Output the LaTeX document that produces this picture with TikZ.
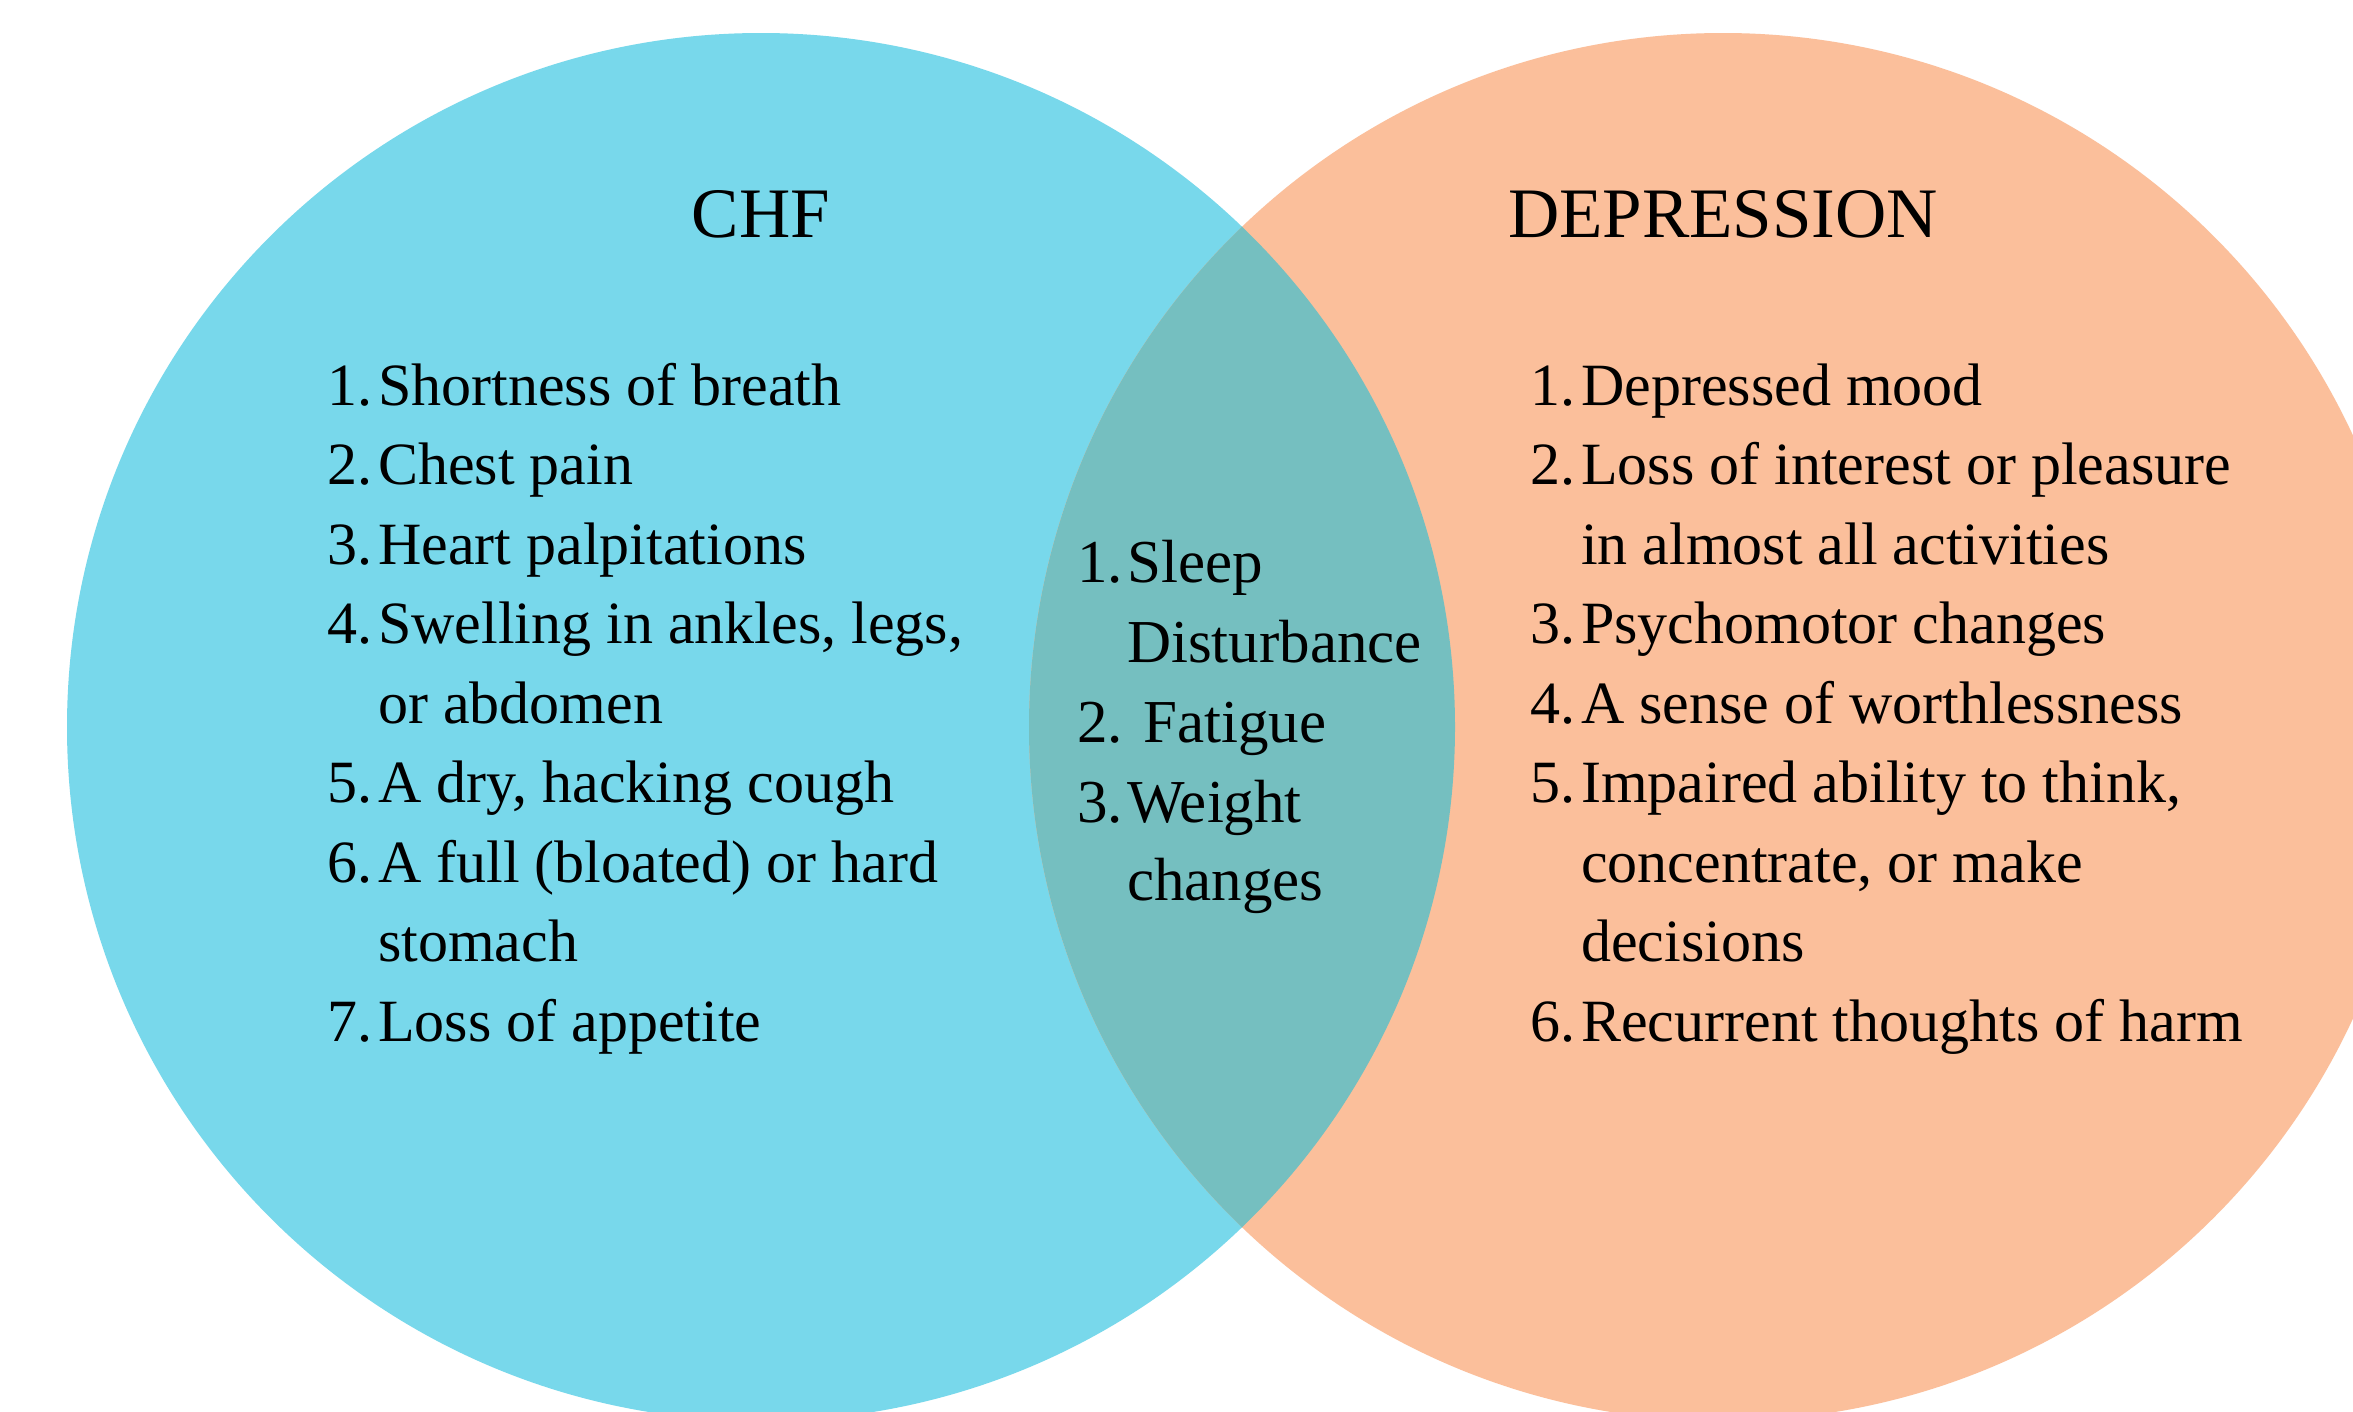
\documentclass[tikz,border=0pt]{standalone}
\usepackage{fontspec}
\setmainfont{Liberation Serif}
\definecolor{chfcol}{RGB}{120,216,235}
\definecolor{depcol}{RGB}{251,191,155}
\definecolor{ovcol}{RGB}{117,191,192}
\begin{document}
\begin{tikzpicture}[x=1pt,y=-1pt,
  ttl/.style={font=\fontsize{71}{80}\selectfont, anchor=base, inner sep=0pt},
  itm/.style={font=\fontsize{60}{80}\selectfont, anchor=base west, inner sep=0pt},
  mid/.style={font=\fontsize{61}{80}\selectfont, anchor=base west, inner sep=0pt}]
\useasboundingbox (0,0) rectangle (2353,1411);
\clip (0,0) rectangle (2353,1411);
\fill[white] (0,0) rectangle (2353,1411);
\fill[chfcol] (761,727) circle (694);
\fill[depcol] (1723,727) circle (694);
\begin{scope}
  \clip (761,727) circle (694);
  \fill[ovcol] (1723,727) circle (694);
\end{scope}
% titles
\node[ttl] (tchf) at (761,237) {CHF};
\node[ttl] (tdep) at (1723,237) {DEPRESSION};
% left list
\node[itm] (l1n) at (327,405) {1.};
\node[itm] (l1) at (378,405) {Shortness of breath};
\node[itm] (l2n) at (327,484.5) {2.};
\node[itm] (l2) at (378,484.5) {Chest pain};
\node[itm] (l3n) at (327,564) {3.};
\node[itm] (l3) at (378,564) {Heart palpitations};
\node[itm] (l4n) at (327,643.5) {4.};
\node[itm] (l4) at (378,643.5) {Swelling in ankles, legs,};
\node[itm] (l4b) at (378,723) {or abdomen};
\node[itm] (l5n) at (327,802.5) {5.};
\node[itm] (l5) at (378,802.5) {A dry, hacking cough};
\node[itm] (l6n) at (327,882) {6.};
\node[itm] (l6) at (378,882) {A full (bloated) or hard};
\node[itm] (l6b) at (378,961.5) {stomach};
\node[itm] (l7n) at (327,1041) {7.};
\node[itm] (l7) at (378,1041) {Loss of appetite};
% middle list
\node[mid] (m1n) at (1077,582) {1.};
\node[mid] (m1) at (1127,582) {Sleep};
\node[mid] (m1b) at (1127,662) {Disturbance};
\node[mid] (m2n) at (1077,742) {2.};
\node[mid] (m2) at (1143,742) {Fatigue};
\node[mid] (m3n) at (1077,822) {3.};
\node[mid] (m3) at (1127,822) {Weight};
\node[mid] (m3b) at (1127,900) {changes};
% right list
\node[itm] (r1n) at (1530,405) {1.};
\node[itm] (r1) at (1581,405) {Depressed mood};
\node[itm] (r2n) at (1530,484.5) {2.};
\node[itm] (r2) at (1581,484.5) {Loss of interest or pleasure};
\node[itm] (r2b) at (1581,564) {in almost all activities};
\node[itm] (r3n) at (1530,643.5) {3.};
\node[itm] (r3) at (1581,643.5) {Psychomotor changes};
\node[itm] (r4n) at (1530,723) {4.};
\node[itm] (r4) at (1581,723) {A sense of worthlessness};
\node[itm] (r5n) at (1530,802.5) {5.};
\node[itm] (r5) at (1581,802.5) {Impaired ability to think,};
\node[itm] (r5b) at (1581,882) {concentrate, or make};
\node[itm] (r5c) at (1581,961.5) {decisions};
\node[itm] (r6n) at (1530,1041) {6.};
\node[itm] (r6) at (1581,1041) {Recurrent thoughts of harm};
\end{tikzpicture}
\end{document}
